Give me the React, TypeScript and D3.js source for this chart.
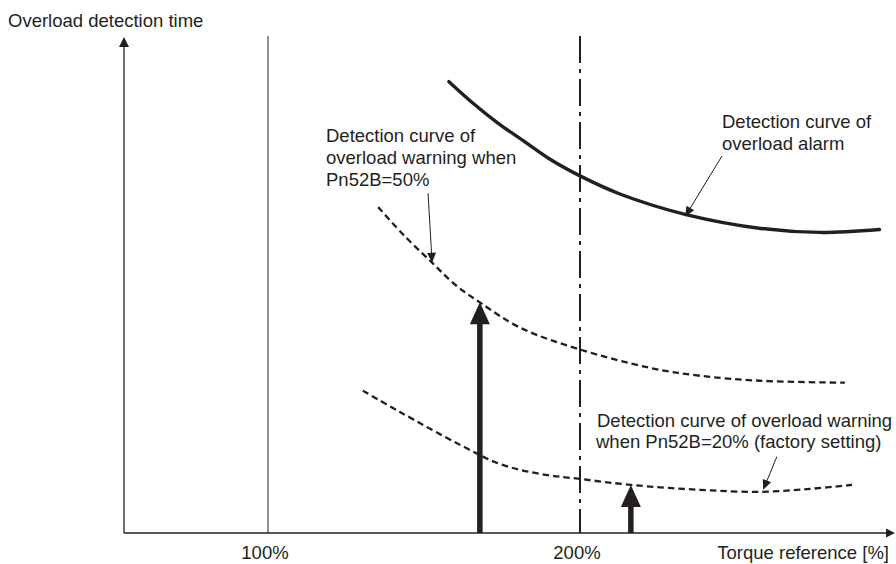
import React from "react";
import * as d3 from "d3";

// ---- data (x: torque reference %, y: relative overload detection time) ----
const xTicks = [100, 200];
const xTickLabels = ["100%", "200%"];
const alarmCurve: [number, number][] = [
  [158, 91], [166, 86.5], [174, 82.5], [182, 79], [190, 75.5], [200, 72],
  [213, 68.3], [234, 64.2], [258, 61.4], [277, 60.6], [296, 61.2],
];
const warn50Curve: [number, number][] = [
  [135.3, 65.7], [143.9, 59.8], [152.6, 54.5], [159.9, 50.1], [167.9, 46.5],
  [180.8, 41.4], [200, 37.0], [222.4, 33.3], [238.5, 31.7], [257.7, 30.7], [284.9, 30.3],
];
const warn20Curve: [number, number][] = [
  [130.4, 28.7], [142.3, 24.4], [161.5, 17.8], [174.4, 13.9], [187.2, 11.9],
  [200, 10.9], [216.3, 9.7], [238.5, 8.7], [257.7, 8.3], [273.7, 8.9], [287.2, 9.7],
];
// thick arrows: [torque, detection time reached]
const torqueArrows: [number, number][] = [[167.9, 46.5], [216.3, 9.7]];
// callouts: from [t,v] to [t,v]
const callouts: [[number, number], [number, number]][] = [
  [[151.3, 68.5], [152.6, 54.5]],
  [[245.5, 76.0], [233.7, 63.8]],
  [[263.1, 15.4], [258.7, 8.7]],
];
const labels50 = ["Detection curve of", "overload warning when", "Pn52B=50%"];
const labelsAlarm = ["Detection curve of", "overload alarm"];
const labels20 = ["Detection curve of overload warning", "when Pn52B=20% (factory setting)"];

const W = 896, H = 564;
const INK = "#231f20";
const FONT = "'Liberation Sans', Arial, Helvetica, sans-serif";
const FS = 18.5;

export default function App() {
  const x = d3.scaleLinear().domain([100, 200]).range([268, 580]);
  const y = d3.scaleLinear().domain([0, 100]).range([533, 37]);
  const x0 = 124, x1 = 895, y0 = 533, yTop = 37, lineTop = 36;

  const line = d3.line<[number, number]>()
    .x(d => x(d[0])).y(d => y(d[1]))
    .curve(d3.curveCatmullRom.alpha(0.5));

  const head = (tx: number, ty: number, fx: number, fy: number, len: number, half: number) => {
    const a = Math.atan2(ty - fy, tx - fx);
    const bx = tx - len * Math.cos(a), by = ty - len * Math.sin(a);
    const px = -Math.sin(a) * half, py = Math.cos(a) * half;
    return `M${tx},${ty}L${bx + px},${by + py}L${bx - px},${by - py}Z`;
  };

  return (
    <svg width={W} height={H} style={{ position: "absolute", left: 0, top: 0, background: "#fff" }}
      fontFamily={FONT} fontSize={FS} fill={INK}>
      {/* axes */}
      <line x1={x0} y1={y0} x2={x0} y2={yTop + 8} stroke={INK} strokeWidth={1.3} />
      <path d={head(x0, yTop, x0, y0, 10, 5)} fill={INK} />
      <line x1={x0} y1={y0} x2={x1 - 8} y2={y0} stroke={INK} strokeWidth={1.3} />
      <path d={head(x1, y0, x0, y0, 9, 4.5)} fill={INK} />

      {/* 100% line and 200% dash-dot line */}
      <line x1={x(xTicks[0])} y1={lineTop} x2={x(xTicks[0])} y2={y0} stroke={INK} strokeWidth={1} />
      <line x1={x(xTicks[1])} y1={lineTop} x2={x(xTicks[1])} y2={y0} stroke={INK} strokeWidth={2}
        strokeDasharray="27 6 4 6" />

      {/* curves */}
      <path d={line(alarmCurve) || ""} fill="none" stroke={INK} strokeWidth={3.4} strokeLinecap="round" />
      <path d={line(warn50Curve) || ""} fill="none" stroke={INK} strokeWidth={2.3} strokeDasharray="6.5 4" />
      <path d={line(warn20Curve) || ""} fill="none" stroke={INK} strokeWidth={2.3} strokeDasharray="6.5 4" />

      {/* thick torque arrows */}
      {torqueArrows.map(([t, v], i) => {
        const tx = x(t), ty = y(v);
        return (
          <g key={i}>
            <line x1={tx} y1={y0} x2={tx} y2={ty + 18} stroke={INK} strokeWidth={5.5} />
            <path d={head(tx, ty, tx, y0, 22, 10)} fill={INK} />
          </g>
        );
      })}

      {/* callouts */}
      {callouts.map(([[ft, fv], [tt, tv]], i) => {
        const fx = x(ft), fy = y(fv), tx = x(tt), ty = y(tv);
        const a = Math.atan2(ty - fy, tx - fx);
        return (
          <g key={i}>
            <line x1={fx} y1={fy} x2={tx - 9 * Math.cos(a)} y2={ty - 9 * Math.sin(a)} stroke={INK} strokeWidth={1} />
            <path d={head(tx, ty, fx, fy, 10, 4.5)} fill={INK} />
          </g>
        );
      })}

      {/* texts */}
      <text x={8} y={27}>Overload detection time</text>
      {xTicks.map((t, i) => (
        <text key={i} x={x(t) - 3} y={559} textAnchor="middle">{xTickLabels[i]}</text>
      ))}
      <text x={889} y={559} textAnchor="end">Torque reference [%]</text>
      {labels50.map((s, i) => <text key={i} x={326} y={142 + i * 22}>{s}</text>)}
      {labelsAlarm.map((s, i) => <text key={i} x={722} y={128 + i * 22}>{s}</text>)}
      {labels20.map((s, i) => <text key={i} x={i === 0 ? 597 : 596} y={427 + i * 21}>{s}</text>)}
    </svg>
  );
}
